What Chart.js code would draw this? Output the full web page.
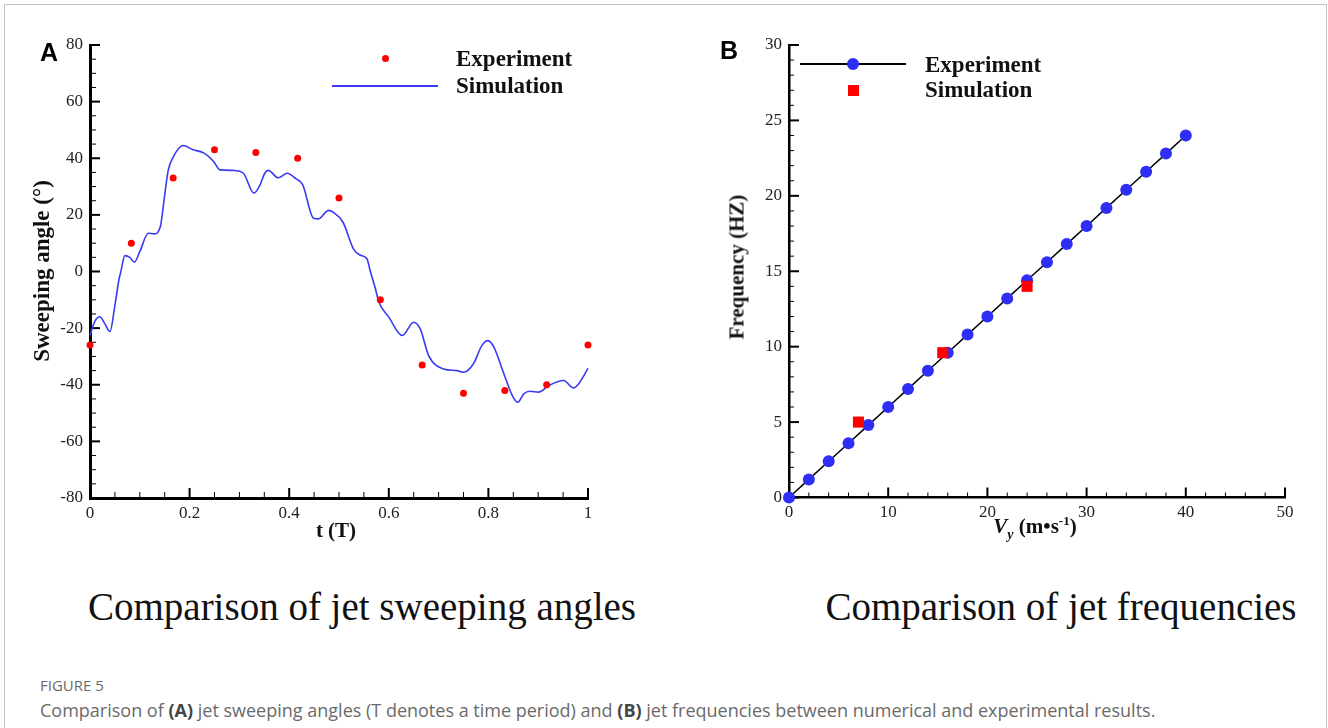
<!DOCTYPE html>
<html><head><meta charset="utf-8">
<script src="https://cdn.jsdelivr.net/npm/chart.js@4.4.0/dist/chart.umd.min.js"></script>
<style>
html,body{margin:0;padding:0;background:#fff;}
#page{position:relative;width:1328px;height:728px;overflow:hidden;background:#fff;}
#frame{position:absolute;left:4px;top:4px;width:1323px;height:760px;border:1px solid #c4c4c4;border-bottom:none;box-sizing:border-box;}
canvas{position:absolute;top:0;}
.abs{position:absolute;white-space:nowrap;line-height:1;}
.serif{font-family:"Liberation Serif","Times New Roman",serif;color:#111;}
.bold{font-weight:bold;}
.lg{font-size:23px;font-weight:bold;transform:translateY(-50%);}
.title{font-size:39px;transform:translate(-50%,-50%);}
.axt{font-size:21px;font-weight:bold;}
.panel{font-family:"Liberation Sans",Arial,sans-serif;font-weight:bold;font-size:25px;color:#000;transform:translateY(-50%);}
.cap{font-family:"Open Sans","Noto Sans",sans-serif;color:#6a6a6a;}
.cap b{color:#444;}
</style>
</head>
<body>
<div id="page">
  <div id="frame"></div>
  <canvas id="cA" width="664" height="560" style="left:0px"></canvas>
  <canvas id="cB" width="664" height="560" style="left:664px"></canvas>

  <div class="abs panel" style="left:40px;top:52px;">A</div>
  <div class="abs panel" style="left:720px;top:50px;">B</div>

  <!-- legend A -->
  <div class="abs" style="left:381.5px;top:54.5px;width:7px;height:7px;border-radius:50%;background:#ff0000;"></div>
  <div class="abs" style="left:332px;top:85px;width:106px;height:2px;background:#3a3af5;"></div>
  <div class="abs serif lg" style="left:456px;top:58px;">Experiment</div>
  <div class="abs serif lg" style="left:456px;top:85px;">Simulation</div>

  <!-- legend B -->
  <div class="abs" style="left:800px;top:63px;width:106px;height:1.6px;background:#000;"></div>
  <div class="abs" style="left:847px;top:58px;width:12px;height:12px;border-radius:50%;background:#2e2ef5;"></div>
  <div class="abs" style="left:847.5px;top:84.5px;width:11px;height:11px;background:#ff0000;"></div>
  <div class="abs serif lg" style="left:925px;top:64px;">Experiment</div>
  <div class="abs serif lg" style="left:925px;top:89px;">Simulation</div>

  <!-- axis titles -->
  <div class="abs serif axt" style="left:41px;top:271px;font-size:23px;transform:translate(-50%,-50%) rotate(-90deg);">Sweeping angle (°)</div>
  <div class="abs serif axt" style="left:336px;top:530px;transform:translate(-50%,-50%);">t (T)</div>
  <div class="abs serif axt" style="left:737px;top:267px;transform:translate(-50%,-50%) rotate(-90deg);">Frequency (HZ)</div>
  <div class="abs serif axt" style="left:1035px;top:528px;transform:translate(-50%,-50%);"><i>V</i><sub style="font-size:14px;"><i>y</i></sub> (m•s<sup style="font-size:13px;">-1</sup>)</div>

  <!-- subplot titles -->
  <div class="abs serif title" style="left:362px;top:606px;">Comparison of jet sweeping angles</div>
  <div class="abs serif title" style="left:1061px;top:606px;">Comparison of jet frequencies</div>

  <!-- caption -->
  <div class="abs cap" style="left:40px;top:678px;font-size:15px;">FIGURE 5</div>
  <div class="abs cap" style="left:40px;top:701px;font-size:18px;">Comparison of <b>(A)</b> jet sweeping angles (T denotes a time period) and <b>(B)</b> jet frequencies between numerical and experimental results.</div>
</div>

<script>
// ---------- Panel A data ----------
const expT = [0, 0.083, 0.167, 0.25, 0.333, 0.417, 0.5, 0.583, 0.667, 0.75, 0.833, 0.917, 1];
const expAngle = [-26, 10, 33, 43, 42, 40, 26, -10, -33, -43, -42, -40, -26];

const simT = [0, 0.010, 0.020, 0.030, 0.040, 0.050, 0.058, 0.062, 0.070, 0.080, 0.089, 0.100,
  0.117, 0.129, 0.141, 0.150, 0.157, 0.167, 0.187, 0.207, 0.229, 0.248, 0.261, 0.288,
  0.308, 0.329, 0.341, 0.351, 0.358, 0.378, 0.396, 0.414, 0.427, 0.449, 0.459, 0.479,
  0.488, 0.508, 0.529, 0.542, 0.556, 0.563, 0.573, 0.580, 0.600, 0.627, 0.650, 0.663,
  0.680, 0.710, 0.737, 0.750, 0.770, 0.787, 0.799, 0.811, 0.831, 0.848, 0.859, 0.871,
  0.884, 0.901, 0.921, 0.951, 0.971, 0.981, 1.000];
const simAngle = [-22.5, -17.5, -16, -18.5, -21.2, -12, -3, 0, 5.6, 5, 3.3, 7,
  13.5, 13.3, 15.7, 27, 35.7, 40.4, 44.5, 43, 41.8, 38.9, 35.9, 35.7,
  34.7, 27.7, 30.4, 34.7, 35.7, 33.1, 34.7, 32.7, 30.7, 18.8, 18.6, 21.6,
  21, 17.4, 8, 5.8, 4.5, 0, -6, -10.8, -16.1, -22.6, -17.9, -20.2,
  -29.7, -34.4, -35, -35.6, -32.6, -26.1, -24.4, -26.7, -36.1, -43.8, -46.2, -43.2,
  -42.3, -42.6, -40.3, -38.5, -41.1, -39.7, -34.2];

const xTickLabelsA = ['0', '0.2', '0.4', '0.6', '0.8', '1'];
const yTickLabelsA = ['-80', '-60', '-40', '-20', '0', '20', '40', '60', '80'];

// ---------- Panel B data ----------
const vyExp = [0, 2, 4, 6, 8, 10, 12, 14, 16, 18, 20, 22, 24, 26, 28, 30, 32, 34, 36, 38, 40];
const freqExp = [0, 1.2, 2.4, 3.6, 4.8, 6.0, 7.2, 8.4, 9.6, 10.8, 12.0, 13.2, 14.4, 15.6, 16.8, 18.0, 19.2, 20.4, 21.6, 22.8, 24.0];
const vySim = [7, 15.5, 24];
const freqSim = [5.0, 9.6, 14.0];

const xTickLabelsB = ['0', '10', '20', '30', '40', '50'];
const yTickLabelsB = ['0', '5', '10', '15', '20', '25', '30'];

// ---------- helpers ----------
const tickFont = {family: '"Liberation Serif","Times New Roman",serif', size: 17};
const tickColor = '#222';

const inwardTicks = {
  id: 'inwardTicks',
  beforeDatasetsDraw(chart, args, o) {
    const ctx = chart.ctx, a = chart.chartArea;
    const xs = chart.scales.x, ys = chart.scales.y;
    ctx.save();
    ctx.strokeStyle = '#000';
    const nx = Math.round((xs.max - xs.min) / o.xMinor);
    const rx = Math.round(o.xMajor / o.xMinor);
    for (let i = 0; i <= nx; i++) {
      const p = xs.getPixelForValue(xs.min + i * o.xMinor);
      const major = i % rx === 0;
      ctx.lineWidth = major ? o.majorW : o.minorW;
      ctx.beginPath();
      ctx.moveTo(p, a.bottom);
      ctx.lineTo(p, a.bottom - (major ? o.majorLen : o.minorLen));
      ctx.stroke();
    }
    const ny = Math.round((ys.max - ys.min) / o.yMinor);
    const ry = Math.round(o.yMajor / o.yMinor);
    for (let i = 0; i <= ny; i++) {
      const p = ys.getPixelForValue(ys.min + i * o.yMinor);
      const major = i % ry === 0;
      ctx.lineWidth = major ? o.majorW : o.minorW;
      ctx.beginPath();
      ctx.moveTo(a.left, p);
      ctx.lineTo(a.left + (major ? o.majorLen : o.minorLen), p);
      ctx.stroke();
    }
    ctx.restore();
  }
};

function axis(min, max, step, labels, fit, pad, bw) {
  return {
    type: 'linear', min: min, max: max,
    afterFit: fit,
    ticks: {
      stepSize: step, padding: pad, font: tickFont, color: tickColor, maxRotation: 0, autoSkip: false,
      callback: (v) => labels[Math.round((v - min) / step)]
    },
    grid: {color: 'transparent', drawTicks: false, drawOnChartArea: false},
    border: {display: true, color: '#000', width: bw}
  };
}

// ---------- Chart A ----------
new Chart(document.getElementById('cA'), {
  type: 'scatter',
  data: {
    datasets: [
      {
        label: 'Experiment',
        data: expT.map((t, i) => ({x: t, y: expAngle[i]})),
        showLine: false, pointRadius: 3.5, pointBackgroundColor: '#ff0000',
        pointBorderWidth: 0, order: 0, clip: false
      },
      {
        label: 'Simulation',
        data: simT.map((t, i) => ({x: t, y: simAngle[i]})),
        showLine: true, borderColor: '#3a3af5', borderWidth: 1.6, pointRadius: 0,
        cubicInterpolationMode: 'monotone', order: 1, clip: false
      }
    ]
  },
  options: {
    responsive: false, animation: false, devicePixelRatio: 1,
    layout: {padding: {top: 45, right: 76, left: 0, bottom: 0}},
    plugins: {
      legend: {display: false}, tooltip: {enabled: false},
      inwardTicks: {xMinor: 0.05, xMajor: 0.2, yMinor: 5, yMajor: 20, majorLen: 10, minorLen: 6, majorW: 2, minorW: 1}
    },
    scales: {
      x: axis(0, 1, 0.2, xTickLabelsA, s => { s.height = 62; }, 5, 3),
      y: axis(-80, 80, 20, yTickLabelsA, s => { s.width = 90; }, 7, 3)
    }
  },
  plugins: [inwardTicks]
});

// ---------- Chart B ----------
new Chart(document.getElementById('cB'), {
  type: 'scatter',
  data: {
    datasets: [
      {
        label: 'Simulation',
        data: vySim.map((v, i) => ({x: v, y: freqSim[i]})),
        showLine: false, pointStyle: 'rect', pointRadius: 7.8,
        pointBackgroundColor: '#ff0000', pointBorderWidth: 0, order: 0, clip: false
      },
      {
        label: 'Experiment',
        data: vyExp.map((v, i) => ({x: v, y: freqExp[i]})),
        showLine: true, borderColor: '#000', borderWidth: 1.5, tension: 0,
        pointRadius: 6, pointBackgroundColor: '#2e2ef5', pointBorderWidth: 0,
        order: 1, clip: false
      }
    ]
  },
  options: {
    responsive: false, animation: false, devicePixelRatio: 1,
    layout: {padding: {top: 45, right: 43, left: 0, bottom: 0}},
    plugins: {
      legend: {display: false}, tooltip: {enabled: false},
      inwardTicks: {xMinor: 2, xMajor: 10, yMinor: 1, yMajor: 5, majorLen: 10, minorLen: 5, majorW: 2, minorW: 1}
    },
    scales: {
      x: axis(0, 50, 10, xTickLabelsB, s => { s.height = 62.5; }, 5, 2.5),
      y: axis(0, 30, 5, yTickLabelsB, s => { s.width = 125; }, 7, 2.5)
    }
  },
  plugins: [inwardTicks]
});
</script>
</body></html>
